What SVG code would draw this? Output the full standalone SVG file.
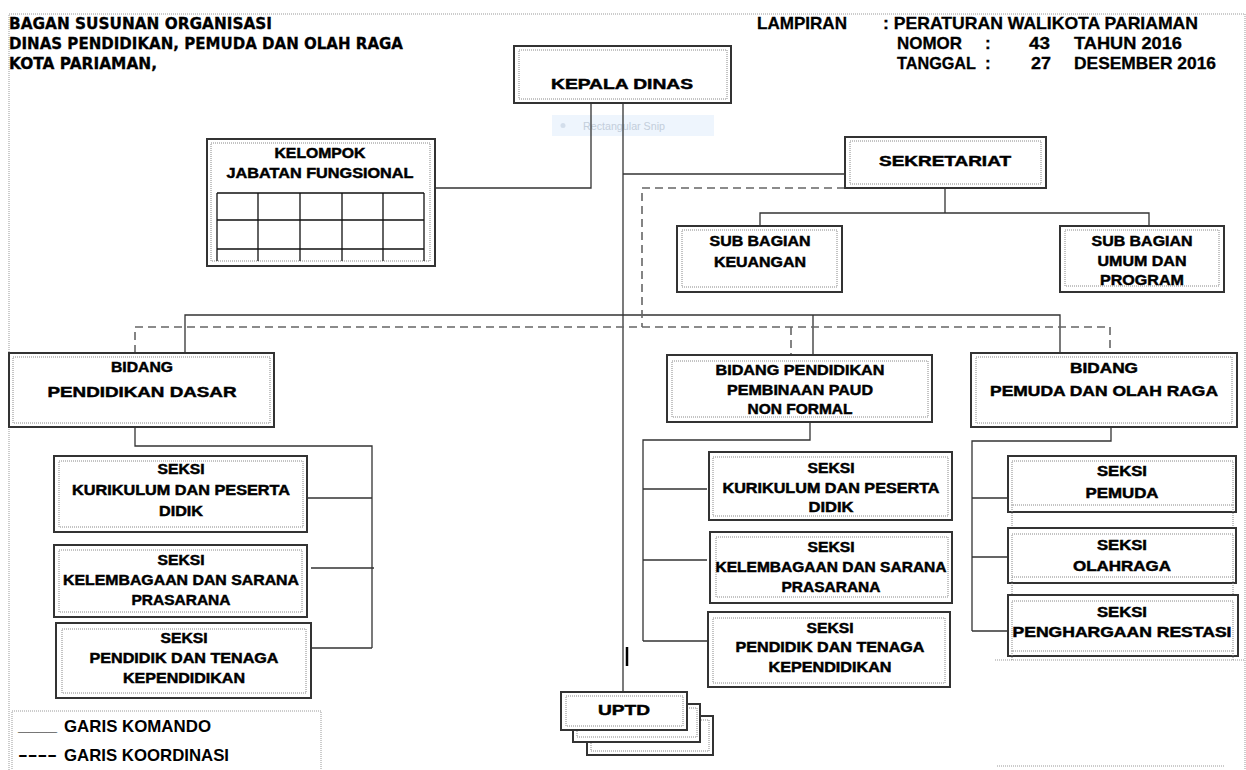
<svg xmlns="http://www.w3.org/2000/svg" width="1246" height="770" viewBox="0 0 1246 770">
<defs>
<style>
.t{font-family:"Liberation Sans",Arial,sans-serif;font-weight:bold;fill:#000;stroke:#000;stroke-width:0.45;text-anchor:middle;font-size:14px}
.h{font-family:"DejaVu Sans","Liberation Sans",sans-serif;font-weight:bold;fill:#000;stroke:#000;stroke-width:0.3;font-size:15px}
.hr{font-family:"Liberation Sans",Arial,sans-serif;font-weight:bold;fill:#000;stroke:#000;stroke-width:0.3;font-size:17px}
.lg{font-family:"Liberation Sans",Arial,sans-serif;font-weight:bold;fill:#000;font-size:17px}
.box{fill:#fff;stroke:#333;stroke-width:2}
.in{fill:none;stroke:#888;stroke-width:1;stroke-dasharray:1 1}
.c{fill:none;stroke:#333;stroke-width:1.3}
.d{fill:none;stroke:#666;stroke-width:1.6;stroke-dasharray:8 5}
.pg{fill:none;stroke:#999;stroke-width:1;stroke-dasharray:1 1}
.g{stroke:#111;stroke-width:1.3}
</style>
</defs>
<rect width="1246" height="770" fill="#fff"/>
<path class="pg" d="M9,770 V14 H1245 V770"/>
<path class="pg" d="M995,660 H1245 M997,766 H1225"/>

<!-- header -->
<g id="header">
<text class="h" x="9" y="29" textLength="263" lengthAdjust="spacingAndGlyphs">BAGAN SUSUNAN ORGANISASI</text>
<text class="h" x="9" y="49" textLength="394" lengthAdjust="spacingAndGlyphs">DINAS PENDIDIKAN, PEMUDA DAN OLAH RAGA</text>
<text class="h" x="9" y="69" textLength="148" lengthAdjust="spacingAndGlyphs">KOTA PARIAMAN,</text>
<text class="hr" x="757" y="29" textLength="90" lengthAdjust="spacingAndGlyphs">LAMPIRAN</text>
<text class="hr" x="883" y="29" textLength="315" lengthAdjust="spacingAndGlyphs">: PERATURAN WALIKOTA PARIAMAN</text>
<text class="hr" x="897" y="49" textLength="65" lengthAdjust="spacingAndGlyphs">NOMOR</text>
<text class="hr" x="985" y="49">:</text>
<text class="hr" x="1029" y="49" textLength="21" lengthAdjust="spacingAndGlyphs">43</text>
<text class="hr" x="1074" y="49" textLength="108" lengthAdjust="spacingAndGlyphs">TAHUN 2016</text>
<text class="hr" x="897" y="69" textLength="79" lengthAdjust="spacingAndGlyphs">TANGGAL</text>
<text class="hr" x="985" y="69">:</text>
<text class="hr" x="1031" y="69" textLength="20" lengthAdjust="spacingAndGlyphs">27</text>
<text class="hr" x="1074" y="69" textLength="142" lengthAdjust="spacingAndGlyphs">DESEMBER 2016</text>
</g>

<!-- snip artifact -->
<g id="snip">
<rect x="552" y="115" width="162" height="21" fill="#eef5fd"/>
<circle cx="563" cy="125.5" r="2.5" fill="#d3deeb"/>
<text x="583" y="130" font-family="Liberation Sans, Arial, sans-serif" font-size="11" fill="#c3cedb" textLength="82" lengthAdjust="spacingAndGlyphs">Rectangular Snip</text>
</g>

<!-- connectors -->
<g id="connectors">
<path class="c" d="M623,103 V692"/>
<path class="c" d="M591,103 V188 H435"/>
<path class="c" d="M623,174 H845"/>
<path class="c" d="M945,188 V213 M760,226 V213 H1149 V226"/>
<path class="c" d="M185,353 V315 H1060 V353 M813,315 V355"/>
<path class="c" d="M135,427 V446 H372 V648 M307,498 H372 M311,568 H374 M311,648 H372"/>
<path class="c" d="M810,422 V440 H643 V641 M643,489 H707 M643,560 H707 M643,641 H707"/>
<path class="c" d="M1111,427 V441 H972 V631 M972,498 H1008 M972,557 H1008 M972,631 H1008"/>
<path class="d" d="M845,188 H642 V327"/>
<path class="d" d="M135,353 V327 H1110 V353 M791,327 V355"/>
<line x1="627" y1="647" x2="627" y2="666" stroke="#000" stroke-width="2.5"/>
</g>

<g id="kepala-dinas">
<rect class="box" x="514" y="46" width="217" height="57"/>
<rect class="in" x="519" y="50" width="208" height="49"/>
<text class="t" x="622" y="89" font-size="17" textLength="142" lengthAdjust="spacingAndGlyphs">KEPALA DINAS</text>
</g>

<g id="kelompok-jabatan-fungsional">
<rect class="box" x="207" y="139" width="228" height="127"/>
<rect class="in" x="211" y="143" width="219" height="118"/>
<text class="t" x="320" y="158" textLength="91" lengthAdjust="spacingAndGlyphs">KELOMPOK</text>
<text class="t" x="320" y="178" textLength="187" lengthAdjust="spacingAndGlyphs">JABATAN FUNGSIONAL</text>
<path class="g" d="M217,193 H424 M217,220 H424 M217,249 H424 M217,193 V261 M258,193 V261 M300,193 V261 M342,193 V261 M383,193 V261 M424,193 V261"/>
</g>

<g id="sekretariat">
<rect class="box" x="845" y="137" width="201" height="51"/>
<rect class="in" x="850" y="141" width="191" height="43"/>
<text class="t" x="945" y="166" font-size="16" textLength="132" lengthAdjust="spacingAndGlyphs">SEKRETARIAT</text>
</g>

<g id="sub-bagian-keuangan">
<rect class="box" x="677" y="226" width="165" height="66"/>
<rect class="in" x="682" y="230" width="155" height="57"/>
<text class="t" x="760" y="246" textLength="101" lengthAdjust="spacingAndGlyphs">SUB BAGIAN</text>
<text class="t" x="760" y="267" textLength="92" lengthAdjust="spacingAndGlyphs">KEUANGAN</text>
</g>

<g id="sub-bagian-umum">
<rect class="box" x="1060" y="226" width="164" height="66"/>
<rect class="in" x="1065" y="230" width="154" height="56"/>
<text class="t" x="1142" y="246" textLength="101" lengthAdjust="spacingAndGlyphs">SUB BAGIAN</text>
<text class="t" x="1142" y="266" textLength="89" lengthAdjust="spacingAndGlyphs">UMUM DAN</text>
<text class="t" x="1142" y="285" textLength="84" lengthAdjust="spacingAndGlyphs">PROGRAM</text>
</g>

<g id="bidang-pendidikan-dasar">
<rect class="box" x="9" y="353" width="265" height="74"/>
<rect class="in" x="13" y="357" width="257" height="66"/>
<text class="t" x="142" y="372" textLength="62" lengthAdjust="spacingAndGlyphs">BIDANG</text>
<text class="t" x="142" y="397" font-size="18" textLength="189" lengthAdjust="spacingAndGlyphs">PENDIDIKAN DASAR</text>
</g>

<g id="bidang-paud">
<rect class="box" x="667" y="355" width="265" height="67"/>
<rect class="in" x="672" y="361" width="256" height="56"/>
<text class="t" x="800" y="375" textLength="169" lengthAdjust="spacingAndGlyphs">BIDANG PENDIDIKAN</text>
<text class="t" x="800" y="395" textLength="146" lengthAdjust="spacingAndGlyphs">PEMBINAAN PAUD</text>
<text class="t" x="800" y="414" textLength="105" lengthAdjust="spacingAndGlyphs">NON FORMAL</text>
</g>

<g id="bidang-pemuda">
<rect class="box" x="971" y="353" width="266" height="74"/>
<rect class="in" x="976" y="357" width="256" height="66"/>
<text class="t" x="1104" y="373" font-size="15" textLength="68" lengthAdjust="spacingAndGlyphs">BIDANG</text>
<text class="t" x="1104" y="396" font-size="15" textLength="228" lengthAdjust="spacingAndGlyphs">PEMUDA DAN OLAH RAGA</text>
</g>

<g id="seksi-kurikulum-1">
<rect class="box" x="54" y="456" width="253" height="76"/>
<rect class="in" x="59" y="461" width="244" height="66"/>
<text class="t" x="181" y="474" textLength="47" lengthAdjust="spacingAndGlyphs">SEKSI</text>
<text class="t" x="181" y="495" textLength="218" lengthAdjust="spacingAndGlyphs">KURIKULUM DAN PESERTA</text>
<text class="t" x="181" y="516" textLength="44" lengthAdjust="spacingAndGlyphs">DIDIK</text>
</g>

<g id="seksi-kelembagaan-1">
<rect class="box" x="54" y="545" width="253" height="72"/>
<rect class="in" x="59" y="550" width="243" height="62"/>
<text class="t" x="181" y="565" textLength="47" lengthAdjust="spacingAndGlyphs">SEKSI</text>
<text class="t" x="181" y="585" textLength="236" lengthAdjust="spacingAndGlyphs">KELEMBAGAAN DAN SARANA</text>
<text class="t" x="181" y="605" textLength="99" lengthAdjust="spacingAndGlyphs">PRASARANA</text>
</g>

<g id="seksi-pendidik-1">
<rect class="box" x="56" y="623" width="255" height="75"/>
<rect class="in" x="62" y="629" width="244" height="64"/>
<text class="t" x="184" y="643" textLength="47" lengthAdjust="spacingAndGlyphs">SEKSI</text>
<text class="t" x="184" y="663" textLength="189" lengthAdjust="spacingAndGlyphs">PENDIDIK DAN TENAGA</text>
<text class="t" x="184" y="683" textLength="122" lengthAdjust="spacingAndGlyphs">KEPENDIDIKAN</text>
</g>

<g id="seksi-kurikulum-2">
<rect class="box" x="709" y="452" width="243" height="68"/>
<rect class="in" x="713" y="457" width="235" height="59"/>
<text class="t" x="831" y="473" textLength="47" lengthAdjust="spacingAndGlyphs">SEKSI</text>
<text class="t" x="831" y="493" textLength="217" lengthAdjust="spacingAndGlyphs">KURIKULUM DAN PESERTA</text>
<text class="t" x="831" y="512" textLength="45" lengthAdjust="spacingAndGlyphs">DIDIK</text>
</g>

<g id="seksi-kelembagaan-2">
<rect class="box" x="710" y="532" width="242" height="71"/>
<rect class="in" x="716" y="537" width="232" height="60"/>
<text class="t" x="831" y="552" textLength="47" lengthAdjust="spacingAndGlyphs">SEKSI</text>
<text class="t" x="831" y="572" textLength="231" lengthAdjust="spacingAndGlyphs">KELEMBAGAAN DAN SARANA</text>
<text class="t" x="831" y="592" textLength="99" lengthAdjust="spacingAndGlyphs">PRASARANA</text>
</g>

<g id="seksi-pendidik-2">
<rect class="box" x="708" y="612" width="242" height="75"/>
<rect class="in" x="713" y="618" width="232" height="65"/>
<text class="t" x="830" y="633" textLength="47" lengthAdjust="spacingAndGlyphs">SEKSI</text>
<text class="t" x="830" y="652" textLength="189" lengthAdjust="spacingAndGlyphs">PENDIDIK DAN TENAGA</text>
<text class="t" x="830" y="672" textLength="123" lengthAdjust="spacingAndGlyphs">KEPENDIDIKAN</text>
</g>

<g id="seksi-pemuda">
<rect class="box" x="1008" y="456" width="228" height="56"/>
<rect class="in" x="1012" y="461" width="221" height="44"/>
<path class="in" d="M1012,505 V528 M1233,505 V528"/>
<text class="t" x="1122" y="476" font-size="15" textLength="50" lengthAdjust="spacingAndGlyphs">SEKSI</text>
<text class="t" x="1122" y="498" font-size="15" textLength="73" lengthAdjust="spacingAndGlyphs">PEMUDA</text>
</g>

<g id="seksi-olahraga">
<rect class="box" x="1008" y="528" width="228" height="55"/>
<rect class="in" x="1012" y="534" width="221" height="43"/>
<path class="in" d="M1012,577 V595 M1233,577 V595"/>
<text class="t" x="1122" y="550" font-size="15" textLength="50" lengthAdjust="spacingAndGlyphs">SEKSI</text>
<text class="t" x="1122" y="571" font-size="15" textLength="98" lengthAdjust="spacingAndGlyphs">OLAHRAGA</text>
</g>

<g id="seksi-penghargaan">
<rect class="box" x="1008" y="595" width="230" height="61"/>
<rect class="in" x="1012" y="601" width="221" height="50"/>
<path class="in" d="M1012,651 V660 M1233,651 V660"/>
<text class="t" x="1122" y="617" font-size="15" textLength="50" lengthAdjust="spacingAndGlyphs">SEKSI</text>
<text class="t" x="1122" y="637" font-size="15" textLength="219" lengthAdjust="spacingAndGlyphs">PENGHARGAAN RESTASI</text>
</g>

<g id="uptd">
<rect class="box" x="587" y="716" width="126" height="39"/>
<rect class="in" x="591" y="720" width="118" height="31"/>
<rect class="box" x="573" y="704" width="127" height="38"/>
<rect class="in" x="577" y="708" width="120" height="29"/>
<rect class="box" x="561" y="692" width="126" height="38"/>
<rect class="in" x="566" y="696" width="117" height="30"/>
<text class="t" x="624" y="715" font-size="17" textLength="52" lengthAdjust="spacingAndGlyphs">UPTD</text>
</g>

<g id="legend">
<rect class="pg" x="12" y="711" width="309" height="70"/>
<text class="lg" x="18" y="731" textLength="39" lengthAdjust="spacingAndGlyphs">____</text>
<text class="lg" x="64" y="732" textLength="147" lengthAdjust="spacingAndGlyphs">GARIS KOMANDO</text>
<text class="lg" x="18" y="760" textLength="39" lengthAdjust="spacingAndGlyphs">----</text>
<text class="lg" x="64" y="761" textLength="165" lengthAdjust="spacingAndGlyphs">GARIS KOORDINASI</text>
</g>
</svg>
